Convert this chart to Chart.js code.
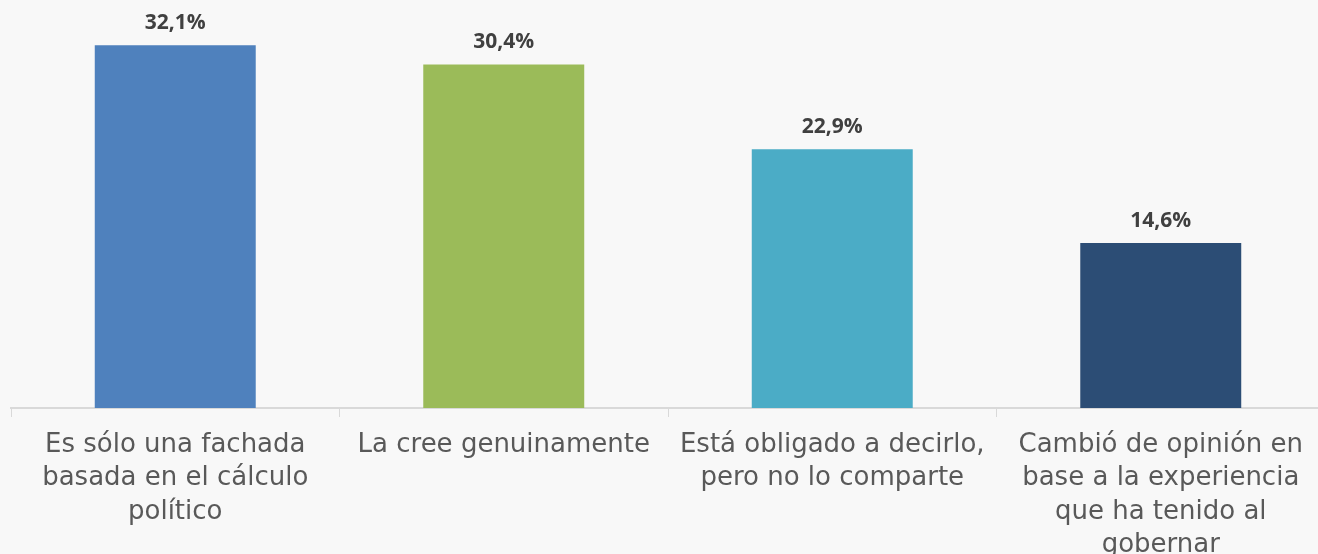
<!DOCTYPE html>
<html lang="es">
<head>
  <meta charset="UTF-8" />
  <title>Opinión</title>
  <script src="https://cdn.jsdelivr.net/npm/chart.js"></script>
  <style>
    html, body {
      margin: 0;
      padding: 0;
      overflow: hidden;
      background: #f8f8f8;
    }
    #wrap {
      width: 1330px;
      height: 570px;
    }
  </style>
</head>
<body>
  <div id="wrap"><canvas id="grafico"></canvas></div>

  <script>
    const categorias = [
      ['Es sólo una fachada', 'basada en el cálculo', 'político'],
      ['La cree genuinamente'],
      ['Está obligado a decirlo,', 'pero no lo comparte'],
      ['Cambió de opinión en', 'base a la experiencia', 'que ha tenido al', 'gobernar']
    ];
    const valores = [32.1, 30.4, 22.9, 14.6];
    const colores = ['#4f81bd', '#9bbb59', '#4bacc6', '#2c4d75'];

    // Etiquetas de valor encima de cada barra
    const etiquetas = {
      id: 'etiquetas',
      afterDatasetsDraw(chart) {
        const ctx = chart.ctx;
        const meta = chart.getDatasetMeta(0);
        ctx.save();
        ctx.font = 'bold 21px "Open Sans", sans-serif';
        ctx.fillStyle = '#404040';
        ctx.textAlign = 'center';
        ctx.textBaseline = 'middle';
        meta.data.forEach((bar, i) => {
          const txt = valores[i].toFixed(1).replace('.', ',') + '%';
          ctx.fillText(txt, bar.x, bar.y - 22);
        });
        ctx.restore();
      }
    };

    new Chart(document.getElementById('grafico'), {
      type: 'bar',
      data: {
        labels: categorias,
        datasets: [{
          data: valores,
          backgroundColor: colores,
          borderWidth: 0,
          categoryPercentage: 1,
          barPercentage: 0.49
        }]
      },
      options: {
        responsive: true,
        maintainAspectRatio: false,
        animation: false,
        layout: { padding: { left: 11, right: 5, top: 0, bottom: 0 } },
        plugins: {
          legend: { display: false },
          tooltip: { enabled: false }
        },
        scales: {
          y: {
            display: false,
            min: 0,
            max: 36.1
          },
          x: {
            afterFit(scale) { scale.height = 162; },
            border: { display: true, color: '#d9d9d9', width: 2 },
            grid: {
              display: true,
              offset: true,
              drawOnChartArea: false,
              drawTicks: true,
              tickLength: 9,
              color: '#d9d9d9',
              lineWidth: 1
            },
            ticks: {
              padding: 11,
              color: '#595959',
              maxRotation: 0,
              autoSkip: false,
              font: { family: '"DejaVu Sans", sans-serif', size: 26, lineHeight: 1.29 }
            }
          }
        }
      },
      plugins: [etiquetas]
    });
  </script>
</body>
</html>
